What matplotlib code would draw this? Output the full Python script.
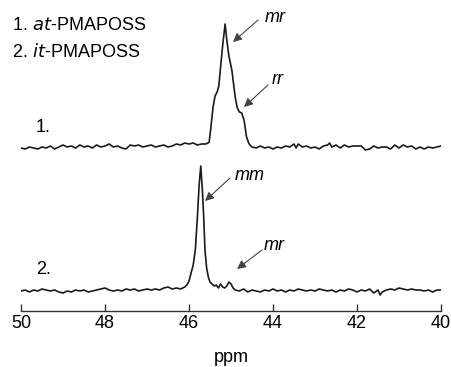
import numpy as np
import matplotlib.pyplot as plt

plt.rcParams['font.family'] = ['Liberation Sans', 'DejaVu Sans']

# trace 1: at-PMAPOSS (ppm, intensity above its baseline)
ppm1 = [50.0, 49.9, 49.8, 49.7, 49.6, 49.5, 49.4, 49.3, 49.2, 49.1, 49.0, 48.9, 48.8, 48.7,
        48.6, 48.5, 48.4, 48.3, 48.2, 48.1, 48.0, 47.9, 47.8, 47.7, 47.6, 47.5, 47.4, 47.3,
        47.2, 47.1, 47.0, 46.9, 46.8, 46.7, 46.6, 46.5, 46.4, 46.3, 46.2, 46.1, 46.0, 45.9,
        45.8, 45.7, 45.6, 45.55, 45.52, 45.48, 45.43, 45.38, 45.33, 45.29, 45.25, 45.2, 45.14,
        45.1, 45.05, 44.98, 44.9, 44.85, 44.8, 44.745, 44.69, 44.63, 44.58, 44.55, 44.5, 44.4,
        44.3, 44.2, 44.1, 44.0, 43.9, 43.8, 43.7, 43.6, 43.5, 43.45, 43.4, 43.3, 43.2, 43.1,
        43.0, 42.9, 42.8, 42.7, 42.65, 42.6, 42.5, 42.4, 42.3, 42.2, 42.1, 42.0, 41.9, 41.8,
        41.7, 41.6, 41.5, 41.4, 41.3, 41.2, 41.1, 41.0, 40.9, 40.8, 40.7, 40.6, 40.5, 40.4,
        40.3, 40.2, 40.1, 40.0]
int1 = [0, -1, 1, 0, -1, 1, 0, 2, -1, 1, 3, 1, 2, 0,
        3, 1, 2, 0, 3, 1, 2, 4, 1, 2, 0, -1, 3, 2,
        3, 1, 2, 3, 1, 2, 3, 1, 2, 4, 3, 5, 4, 5,
        3, 4, 4, 5, 6, 20, 40, 52, 56, 62, 80, 102, 124,
        108, 92, 78, 51, 40, 36, 35, 28, 11, 5, 3, 1, 0,
        2, 0, 1, -1, 1, 0, 2, 1, 4, 0, 4, 1, 2, 0,
        1, -1, 2, 3, 5, 1, 3, 0, 3, 1, 2, 2, 2, -2,
        -1, 2, 0, 1, 1, -1, 3, 0, 3, 1, 2, -1, 1, -1,
        1, 0, 1, 2]

# trace 2: it-PMAPOSS
ppm2 = [50.0, 49.9, 49.8, 49.7, 49.6, 49.5, 49.4, 49.3, 49.2, 49.1, 49.0, 48.9, 48.8, 48.7,
        48.6, 48.5, 48.4, 48.3, 48.2, 48.1, 48.0, 47.9, 47.8, 47.7, 47.6, 47.5, 47.4, 47.3,
        47.2, 47.1, 47.0, 46.9, 46.8, 46.7, 46.6, 46.5, 46.4, 46.3, 46.2, 46.1, 46.05, 46.0,
        45.95, 45.9, 45.85, 45.8, 45.76, 45.72, 45.68, 45.65, 45.62, 45.58, 45.54, 45.5, 45.45,
        45.4, 45.35, 45.3, 45.25, 45.2, 45.15, 45.1, 45.05, 45.0, 44.95, 44.9, 44.8, 44.7,
        44.6, 44.5, 44.4, 44.3, 44.2, 44.1, 44.0, 43.9, 43.8, 43.7, 43.6, 43.5, 43.4, 43.3,
        43.2, 43.1, 43.0, 42.9, 42.8, 42.7, 42.6, 42.5, 42.4, 42.3, 42.2, 42.1, 42.0, 41.9,
        41.8, 41.7, 41.6, 41.5, 41.45, 41.4, 41.3, 41.2, 41.1, 41.0, 40.9, 40.8, 40.7, 40.6,
        40.5, 40.4, 40.3, 40.2, 40.1, 40.0]
int2 = [0, 1, -1, 1, 0, 2, 1, 0, 1, -1, -2, 0, -1, 1,
        0, 1, -1, 0, 1, 2, 3, 1, 0, 1, 0, 2, 1, 2,
        0, 1, 2, 1, 2, 1, 3, 4, 2, 3, 2, 4, 6, 10,
        18, 26, 41, 74, 105, 125, 100, 74, 41, 23, 14, 9, 7,
        5, 6, 3, 7, 4, 3, 5, 9, 7, 3, 1, 0, 2,
        -1, 1, 0, -1, 1, 0, 2, 0, 1, -1, 1, 0, 2, 1,
        0, 1, 0, 2, 1, 0, 1, -1, 1, 0, 2, 1, -1, 1,
        0, 2, -2, 1, -4, -1, 1, 2, 1, 3, 2, 1, 2, 1,
        1, 0, 1, -1, 1, 1]

offset1 = 163
offset2 = 20
ticks = [50, 48, 46, 44, 42, 40]

fig = plt.figure(figsize=(4.51, 3.67), dpi=100)
ax = fig.add_axes([21 / 451, 56 / 367, 420 / 451, 311 / 367])

ax.plot(ppm1, np.array(int1) + offset1, color='#1a1a1a', lw=1.2)
ax.plot(ppm2, np.array(int2) + offset2, color='#1a1a1a', lw=1.2)

ax.set_xlim(50, 40)
ax.set_ylim(0, 311)
for s in ['top', 'left', 'right']:
    ax.spines[s].set_visible(False)
ax.spines['bottom'].set_linewidth(1.0)
ax.spines['bottom'].set_color('#333333')
ax.set_yticks([])
ax.set_xticks(ticks)
ax.set_xticklabels([str(t) for t in ticks])
ax.tick_params(axis='x', direction='in', length=5, width=1, labelsize=13, pad=3,
               color='#333333')
ax.set_xlabel('ppm', fontsize=13, labelpad=12)

ax.text(50.21, 285, '1. $\\it{at}$-PMAPOSS', fontsize=13, va='center', ha='left')
ax.text(50.21, 259, '2. $\\it{it}$-PMAPOSS', fontsize=13, va='center', ha='left')
ax.text(49.64, 184, '1.', fontsize=13, va='center', ha='left')
ax.text(49.64, 41, '2.', fontsize=13, va='center', ha='left')

arrow = dict(arrowstyle='-|>', color='#444444', lw=0.8, mutation_scale=13,
             shrinkA=0, shrinkB=0)
notes = [('mr', (44.952, 269), (44.357, 291), (43.952, 294)),
         ('rr', (44.69, 204), (44.119, 226), (43.881, 231)),
         ('mm', (45.619, 110), (45.024, 133), (44.548, 136)),
         ('mr', (44.857, 42), (44.262, 61), (43.976, 66))]
for label, head, tail, pos in notes:
    ax.annotate('', xy=head, xytext=tail, arrowprops=arrow)
    ax.text(pos[0], pos[1], label, fontsize=13, style='italic', ha='center', va='center')

fig.savefig('out.png', dpi=100)
